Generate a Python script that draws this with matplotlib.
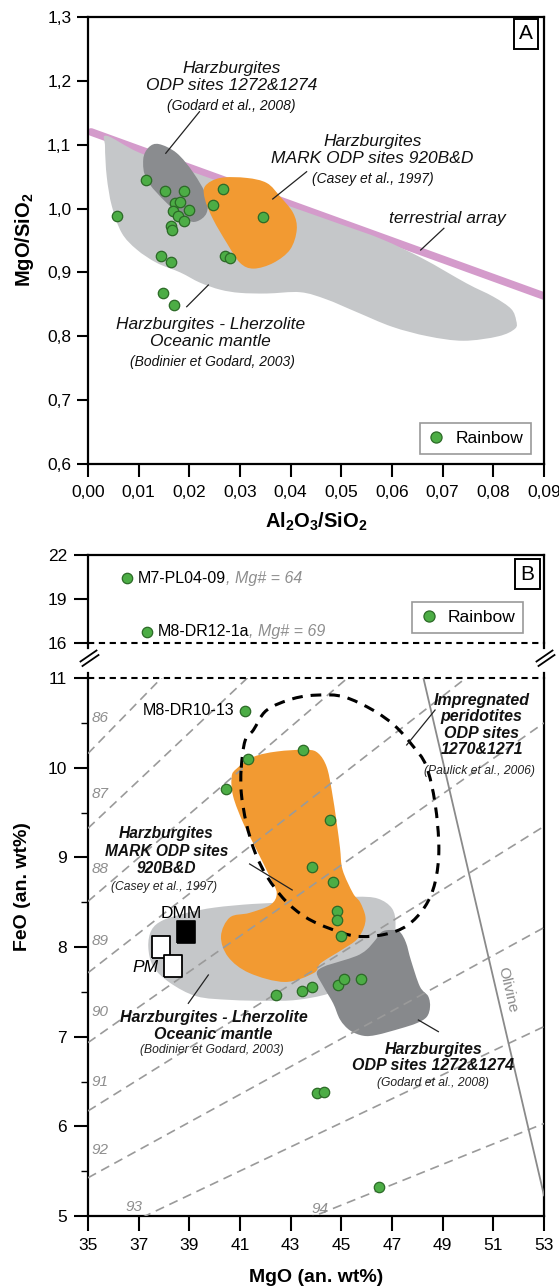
import numpy as np
import matplotlib
matplotlib.use('Agg')
import matplotlib.pyplot as plt
from matplotlib.path import Path
from matplotlib.patches import PathPatch
from matplotlib.lines import Line2D

plt.rcParams['font.family'] = ['Liberation Sans', 'DejaVu Sans']
plt.rcParams['mathtext.fontset'] = 'custom'
plt.rcParams['mathtext.rm'] = 'Liberation Sans'
plt.rcParams['mathtext.it'] = 'Liberation Sans:italic'
plt.rcParams['mathtext.bf'] = 'Liberation Sans:bold'

# ---------------- Panel A data ----------------
a_xticks = [0.00, 0.01, 0.02, 0.03, 0.04, 0.05, 0.06, 0.07, 0.08, 0.09]
a_xticklabels = ['0,00', '0,01', '0,02', '0,03', '0,04', '0,05', '0,06', '0,07', '0,08', '0,09']
a_yticks = [0.6, 0.7, 0.8, 0.9, 1.0, 1.1, 1.2, 1.3]
a_yticklabels = ['0,6', '0,7', '0,8', '0,9', '1,0', '1,1', '1,2', '1,3']

rainbow_al = [0.0058, 0.0115, 0.0151, 0.0189, 0.0171, 0.0182, 0.0168, 0.0199, 0.0178, 0.0189, 0.0163,
              0.0166, 0.0145, 0.0163, 0.0149, 0.0170, 0.0266, 0.0246, 0.0345, 0.0270, 0.0280]
rainbow_mgsi = [0.988, 1.045, 1.027, 1.027, 1.009, 1.010, 0.996, 0.997, 0.989, 0.981, 0.973,
                0.966, 0.925, 0.916, 0.868, 0.849, 1.031, 1.006, 0.987, 0.926, 0.923]

terr_al = [0.0006, 0.090]
terr_mgsi = [1.120, 0.863]

oceanic_a_al = [0.0037, 0.010, 0.020, 0.030, 0.040, 0.050, 0.058, 0.066, 0.0747, 0.080, 0.0835, 0.0845,
                0.0843, 0.081, 0.0741, 0.0671, 0.060, 0.053, 0.047, 0.0419, 0.0353, 0.030, 0.0261,
                0.0221, 0.0182, 0.01356, 0.0096, 0.00665, 0.0047, 0.0037, 0.00336]
oceanic_a_mgsi = [1.114, 1.088, 1.059, 1.031, 1.003, 0.975, 0.952, 0.922, 0.883, 0.862, 0.843, 0.825,
                  0.812, 0.800, 0.793, 0.800, 0.815, 0.838, 0.858, 0.869, 0.867, 0.868, 0.873,
                  0.884, 0.900, 0.915, 0.936, 0.962, 1.004, 1.050, 1.097]

odp1272_a_al = [0.0140, 0.0175, 0.0208, 0.0234, 0.0234, 0.0215, 0.0195, 0.0155, 0.0116, 0.0109, 0.0120]
odp1272_a_mgsi = [1.101, 1.087, 1.056, 1.019, 0.993, 0.980, 0.983, 1.009, 1.045, 1.077, 1.096]

mark_a_al = [0.0231, 0.0261, 0.0313, 0.0353, 0.0379, 0.0405, 0.0412, 0.0399, 0.0366, 0.0327, 0.0300,
             0.0274, 0.0247, 0.0231]
mark_a_mgsi = [1.035, 1.048, 1.048, 1.040, 1.019, 0.993, 0.967, 0.936, 0.915, 0.906, 0.915,
               0.946, 0.983, 1.014]

# ---------------- Panel B data ----------------
b_xticks = [35, 37, 39, 41, 43, 45, 47, 49, 51, 53]
b_xticklabels = ['35', '37', '39', '41', '43', '45', '47', '49', '51', '53']
b_low_yticks = [5, 6, 7, 8, 9, 10, 11]
b_low_yticklabels = ['5', '6', '7', '8', '9', '10', '11']
b_up_yticks = [16, 19, 22]
b_up_yticklabels = ['16', '19', '22']

rainbow_mgo = [36.52, 37.34, 41.19, 41.30, 43.47, 40.44, 44.55, 43.84, 44.68, 44.83, 44.83,
               44.97, 42.44, 43.45, 43.84, 44.85, 45.11, 45.78, 44.05, 44.30, 46.47]
rainbow_feo = [20.41, 16.77, 10.63, 10.10, 10.20, 9.76, 9.42, 8.89, 8.72, 8.40, 8.30,
               8.12, 7.46, 7.51, 7.55, 7.58, 7.64, 7.64, 6.37, 6.38, 5.32]

sample_names = ['M7-PL04-09', 'M8-DR12-1a', 'M8-DR10-13']
sample_mgnum = ['64', '69']

dmm_mgo = [38.85]
dmm_feo = [8.17]
pm_mgo = [37.87, 38.35]
pm_feo = [8.00, 7.79]

mg_numbers = [86, 87, 88, 89, 90, 91, 92, 93, 94]

olivine_mgo = [48.24, 53.0]
olivine_feo = [11.0, 5.23]

oceanic_b_mgo = [37.38, 37.51, 37.97, 38.89, 40.0, 41.5, 43.0, 44.5, 45.6, 46.44, 47.0, 47.14, 47.0,
                 46.5, 45.6, 44.5, 43.24, 42.05, 40.61, 39.29, 38.24, 37.58]
oceanic_b_feo = [8.00, 8.19, 8.30, 8.38, 8.44, 8.48, 8.50, 8.53, 8.56, 8.54, 8.43, 8.25, 8.0,
                 7.80, 7.62, 7.48, 7.41, 7.40, 7.41, 7.45, 7.60, 7.78]

odp1272_b_mgo = [44.03, 44.3, 44.95, 45.6, 46.0, 46.35, 46.6, 46.95, 47.3, 47.55, 47.75, 48.1, 48.43,
                 48.5, 48.37, 47.97, 47.32, 46.4, 45.87, 45.34, 44.95, 44.68, 44.29]
odp1272_b_feo = [7.71, 7.78, 7.84, 7.90, 7.97, 8.08, 8.17, 8.19, 8.17, 8.05, 7.85, 7.56, 7.45,
                 7.33, 7.22, 7.15, 7.09, 7.02, 7.01, 7.07, 7.19, 7.37, 7.56]

mark_b_mgo = [40.67, 40.87, 41.53, 42.45, 43.63, 44.09, 44.42, 44.62, 44.82, 44.95, 45.05, 45.46, 45.74,
              45.95, 45.88, 45.6, 45.03, 44.19, 43.91, 42.78, 41.37, 40.53, 40.25, 40.6, 41.37, 42.2,
              42.45, 42.18, 41.66, 41.13, 40.73]
mark_b_feo = [9.90, 9.99, 10.12, 10.18, 10.20, 10.16, 10.01, 9.75, 9.38, 9.10, 8.86, 8.60, 8.50,
              8.34, 8.21, 8.08, 7.97, 7.82, 7.71, 7.61, 7.71, 7.89, 8.12, 8.33, 8.38, 8.47,
              8.60, 8.78, 9.08, 9.38, 9.68]

impreg_mgo = [41.05, 41.2, 41.53, 42.05, 43.1, 44.1, 45.1, 46.26, 47.1, 47.8, 48.35, 48.7, 48.85, 48.7,
              48.3, 47.6, 46.7, 45.6, 44.6, 43.6, 42.78, 42.08, 41.6, 41.25, 41.05]
impreg_feo = [10.0, 10.3, 10.42, 10.64, 10.77, 10.81, 10.79, 10.64, 10.47, 10.25, 10.02, 9.6, 9.1, 8.72,
              8.45, 8.24, 8.14, 8.12, 8.20, 8.33, 8.52, 8.78, 9.05, 9.38, 9.72]

# ---------------- styles ----------------
GREEN = '#4cad45'
GEDGE = '#2c6a27'
ORANGE = '#f29a32'
LGRAY = '#c5c7c9'
DGRAY = '#8a8c8f'
PINK = '#d49bcb'
MGGRAY = '#8e8e8e'


def smooth_closed(xs, ys):
    P = np.column_stack([xs, ys]).astype(float)
    n = len(P)
    verts = [P[0]]
    codes = [Path.MOVETO]
    for i in range(n):
        p0, p1, p2, p3 = P[i - 1], P[i], P[(i + 1) % n], P[(i + 2) % n]
        verts += [p1 + (p2 - p0) / 6.0, p2 - (p3 - p1) / 6.0, p2]
        codes += [Path.CURVE4] * 3
    return Path(verts, codes)


W, H = 559, 1286
fig = plt.figure(figsize=(W / 100, H / 100), dpi=100)


def rect(l, t, r, b):
    return [l / W, 1 - b / H, (r - l) / W, (b - t) / H]


axA = fig.add_axes(rect(88, 17, 544, 464))
axBt = fig.add_axes(rect(88, 555, 544, 643))
axB = fig.add_axes(rect(88, 678, 544, 1216))

for ax in (axA, axBt, axB):
    for s in ax.spines.values():
        s.set_linewidth(1.6)

# ================= Panel A =================
axA.set_xlim(0, 0.09)
axA.set_ylim(0.6, 1.3)
axA.set_xticks(a_xticks)
axA.set_xticklabels(a_xticklabels)
axA.set_yticks(a_yticks)
axA.set_yticklabels(a_yticklabels)
axA.tick_params(axis='x', direction='out', length=9, width=1.5, labelsize=12.5, pad=6)
axA.tick_params(axis='y', direction='out', length=8, width=1.5, labelsize=12.5, pad=4)

axA.plot(terr_al, terr_mgsi, color=PINK, lw=5.5, solid_capstyle='round', zorder=1)
axA.add_patch(PathPatch(smooth_closed(oceanic_a_al, oceanic_a_mgsi), fc=LGRAY, ec='none', zorder=2))
axA.add_patch(PathPatch(smooth_closed(odp1272_a_al, odp1272_a_mgsi), fc=DGRAY, ec='none', zorder=3))
axA.add_patch(PathPatch(smooth_closed(mark_a_al, mark_a_mgsi), fc=ORANGE, ec='none', zorder=3))
axA.plot(rainbow_al, rainbow_mgsi, ls='none', marker='o', ms=7.5, mfc=GREEN, mec=GEDGE, mew=0.9, zorder=6)

ital = dict(style='italic', color='#111111')
axA.text(0.02836, 1.206, 'Harzburgites\nODP sites 1272&1274', ha='center', va='center',
         fontsize=12.5, linespacing=1.15, **ital)
axA.text(0.02836, 1.1606, '(Godard et al., 2008)', ha='center', va='center', fontsize=10, **ital)
axA.plot([0.0220, 0.01535], [1.1517, 1.0866], color='#222222', lw=0.9, zorder=7)

axA.text(0.05615, 1.0912, 'Harzburgites\nMARK ODP sites 920B&D', ha='center', va='center',
         fontsize=12.5, linespacing=1.15, **ital)
axA.text(0.05615, 1.0463, '(Casey et al., 1997)', ha='center', va='center', fontsize=10, **ital)
axA.plot([0.04315, 0.03646], [1.0577, 1.0150], color='#222222', lw=0.9, zorder=7)

axA.text(0.07094, 0.9848, 'terrestrial array', ha='center', va='center', fontsize=12.5, **ital)
axA.plot([0.07024, 0.06566], [0.9691, 0.9351], color='#222222', lw=0.9, zorder=7)

axA.text(0.02414, 0.8052, 'Harzburgites - Lherzolite\nOceanic mantle', ha='center', va='center',
         fontsize=12.5, linespacing=1.15, **ital)
axA.text(0.0245, 0.7602, '(Bodinier et Godard, 2003)', ha='center', va='center', fontsize=10, **ital)
axA.plot([0.02375, 0.01948], [0.8803, 0.8463], color='#222222', lw=0.9, zorder=7)

axA.text(0.96, 0.962, 'A', transform=axA.transAxes, ha='center', va='center', fontsize=15,
         bbox=dict(boxstyle='square,pad=0.25', fc='white', ec='black', lw=1.4), zorder=8)

legA = axA.legend(handles=[Line2D([], [], ls='none', marker='o', ms=8, mfc=GREEN, mec=GEDGE, mew=0.9,
                                  label='Rainbow')],
                  loc='lower right', bbox_to_anchor=(0.971, 0.022), borderaxespad=0, fancybox=False,
                  edgecolor='#999999', framealpha=1, fontsize=12.5, handlelength=1.0,
                  handletextpad=0.6, borderpad=0.45)
legA.get_frame().set_linewidth(1.2)

fig.text(25 / W, 1 - 240 / H, r'$\mathbf{MgO/SiO_2}$', rotation=90, ha='center', va='center', fontsize=14.5)
fig.text(316 / W, 1 - 522 / H, r'$\mathbf{Al_2O_3/SiO_2}$', ha='center', va='center', fontsize=14.5)

# ================= Panel B (upper part) =================
axBt.set_xlim(35, 53)
axBt.set_ylim(16, 22)
axBt.set_yticks(b_up_yticks)
axBt.set_yticklabels(b_up_yticklabels)
axBt.tick_params(axis='x', bottom=False, labelbottom=False)
axBt.tick_params(axis='y', direction='out', length=10, width=1.5, labelsize=12.5, pad=5)
axBt.spines['bottom'].set_visible(False)
axBt.axhline(16, color='black', lw=1.5, ls=(0, (3, 2.2)), clip_on=False, zorder=4)
axBt.plot(rainbow_mgo, rainbow_feo, ls='none', marker='o', ms=7.5, mfc=GREEN, mec=GEDGE, mew=0.9, zorder=6)

t1 = axBt.text(rainbow_mgo[0] + 0.43, rainbow_feo[0], sample_names[0], ha='left', va='center', fontsize=11.5)
axBt.annotate(', Mg# = ' + sample_mgnum[0], xy=(1, 0), xycoords=t1, ha='left', va='bottom',
              fontsize=11.5, style='italic', color=MGGRAY)
t2 = axBt.text(rainbow_mgo[1] + 0.42, rainbow_feo[1], sample_names[1], ha='left', va='center', fontsize=11.5)
axBt.annotate(', Mg# = ' + sample_mgnum[1], xy=(1, 0), xycoords=t2, ha='left', va='bottom',
              fontsize=11.5, style='italic', color=MGGRAY)

axBt.text(0.964, 0.784, 'B', transform=axBt.transAxes, ha='center', va='center', fontsize=15,
          bbox=dict(boxstyle='square,pad=0.25', fc='white', ec='black', lw=1.4), zorder=8)
legB = axBt.legend(handles=[Line2D([], [], ls='none', marker='o', ms=8, mfc=GREEN, mec=GEDGE, mew=0.9,
                                   label='Rainbow')],
                   loc='lower right', bbox_to_anchor=(0.955, 0.117), borderaxespad=0, fancybox=False,
                   edgecolor='#999999', framealpha=1, fontsize=12.5, handlelength=1.0,
                   handletextpad=0.6, borderpad=0.45)
legB.get_frame().set_linewidth(1.2)

# ================= Panel B (lower part) =================
axB.set_xlim(35, 53)
axB.set_ylim(5, 11)
axB.set_xticks(b_xticks)
axB.set_xticklabels(b_xticklabels)
axB.set_yticks(b_low_yticks)
axB.set_yticklabels(b_low_yticklabels)
axB.set_yticks([5.5, 6.5, 7.5, 8.5, 9.5, 10.5], minor=True)
axB.tick_params(axis='x', direction='out', length=11, width=1.5, labelsize=12.5, pad=5)
axB.tick_params(axis='y', which='major', direction='out', length=10, width=1.5, labelsize=12.5, pad=5)
axB.tick_params(axis='y', which='minor', direction='out', length=5, width=1.0)
axB.spines['top'].set_visible(False)
axB.axhline(11, color='black', lw=1.5, ls=(0, (3, 2.2)), clip_on=False, zorder=4)

axB.add_patch(PathPatch(smooth_closed(oceanic_b_mgo, oceanic_b_feo), fc=LGRAY, ec='none', zorder=1))
axB.add_patch(PathPatch(smooth_closed(odp1272_b_mgo, odp1272_b_feo), fc='#87898c', ec='none', zorder=2))
axB.add_patch(PathPatch(smooth_closed(mark_b_mgo, mark_b_feo), fc=ORANGE, ec='none', zorder=2))

# Mg# iso-lines
mg_x = np.array([35.0, 53.0])
for m in mg_numbers:
    fe = mg_x * (71.85 / 40.3) * (100 - m) / m
    axB.plot(mg_x, fe, color='#9a9a9a', lw=1.2, ls=(0, (5.5, 3.5)), zorder=3)
for m in mg_numbers[:7]:
    fe_lab = 35.6 * (71.85 / 40.3) * (100 - m) / m + 0.22
    axB.text(35.15, fe_lab, str(m), ha='left', va='center', fontsize=11, style='italic', color=MGGRAY, zorder=3)
axB.text(36.8, 5.10, str(mg_numbers[7]), ha='center', va='center', fontsize=11, style='italic', color=MGGRAY)
axB.text(44.15, 5.08, str(mg_numbers[8]), ha='center', va='center', fontsize=11, style='italic', color=MGGRAY)

# impregnated peridotites outline
axB.add_patch(PathPatch(smooth_closed(impreg_mgo, impreg_feo), fc='none', ec='black', lw=2.2,
                        ls=(0, (3.5, 2.6)), zorder=4))

# olivine line
axB.plot(olivine_mgo, olivine_feo, color='#8a8a8a', lw=1.3, zorder=4)
axB.text(51.55, 7.52, 'Olivine', rotation=-76.9, ha='center', va='center', fontsize=11, color='#8a8a8a',
         rotation_mode='anchor')

# DMM / PM
sq = [(-0.4, -0.5), (0.4, -0.5), (0.4, 0.5), (-0.4, 0.5), (-0.4, -0.5)]
axB.plot(dmm_mgo, dmm_feo, ls='none', marker=sq, ms=15.5, mfc='black', mec='black', mew=1.2, zorder=5)
axB.plot(pm_mgo, pm_feo, ls='none', marker=sq, ms=15.5, mfc='white', mec='black', mew=1.3, zorder=5)
axB.text(38.70, 8.376, 'DMM', ha='center', va='center', fontsize=12.5, zorder=6)
axB.text(37.80, 7.77, 'PM', ha='right', va='center', fontsize=12.5, style='italic', zorder=6)

axB.plot(rainbow_mgo, rainbow_feo, ls='none', marker='o', ms=7.5, mfc=GREEN, mec=GEDGE, mew=0.9, zorder=7)
axB.text(40.79, 10.64, sample_names[2], ha='right', va='center', fontsize=11.5, zorder=7)

bi = dict(style='italic', weight='bold', color='#111111')
axB.text(50.54, 10.475, 'Impregnated\nperidotites\nODP sites\n1270&1271', ha='center', va='center',
         fontsize=11.5, linespacing=1.12, zorder=8, **bi)
axB.text(50.47, 9.96, '(Paulick et al., 2006)', ha='center', va='center', fontsize=8.7, style='italic',
         color='#222222', zorder=8)
axB.plot([48.70, 47.58], [10.643, 10.253], color='#222222', lw=0.9, zorder=8)

for line_txt, fe_pos in zip(['Harzburgites', 'MARK ODP sites', '920B&D'], [9.27, 9.07, 8.87]):
    axB.text(38.1, fe_pos, line_txt, ha='center', va='center', fontsize=11.2, zorder=8, **bi)
axB.text(38.0, 8.667, '(Casey et al., 1997)', ha='center', va='center', fontsize=8.7, style='italic',
         color='#222222', zorder=8)
axB.plot([41.38, 43.06], [8.926, 8.636], color='#222222', lw=0.9, zorder=8)

axB.text(39.95, 7.12, 'Harzburgites - Lherzolite\nOceanic mantle', ha='center', va='center',
         fontsize=11.5, linespacing=1.1, zorder=8, **bi)
axB.text(39.89, 6.851, '(Bodinier et Godard, 2003)', ha='center', va='center', fontsize=8.7,
         style='italic', color='#222222', zorder=8)
axB.plot([39.75, 38.96], [7.688, 7.372], color='#222222', lw=0.9, zorder=8)

axB.text(48.63, 6.77, 'Harzburgites\nODP sites 1272&1274', ha='center', va='center', fontsize=11.5,
         linespacing=1.1, zorder=8, **bi)
axB.text(48.63, 6.48, '(Godard et al., 2008)', ha='center', va='center', fontsize=8.7, style='italic',
         color='#222222', zorder=8)
axB.plot([48.04, 48.83], [7.186, 7.056], color='#222222', lw=0.9, zorder=8)

fig.text(23 / W, 1 - 887 / H, 'FeO (an. wt%)', rotation=90, ha='center', va='center', fontsize=14,
         weight='bold')
fig.text(316 / W, 1 - 1277 / H, 'MgO (an. wt%)', ha='center', va='center', fontsize=14, weight='bold')


# axis-break marks and short spine stubs (figure pixel coordinates)
def fline(x0, y0, x1, y1, **kw):
    fig.add_artist(Line2D([x0 / W, x1 / W], [1 - y0 / H, 1 - y1 / H], transform=fig.transFigure, **kw))


for xs in (88, 544):
    fline(xs, 643, xs, 648, color='black', lw=1.6)
    fline(xs, 673, xs, 678, color='black', lw=1.6)
for dx in (0, 456):
    fline(80.5 + dx, 661.5, 96.5 + dx, 650.5, color='black', lw=1.3)
    fline(82.5 + dx, 666.0, 98.5 + dx, 655.0, color='black', lw=1.3)

fig.savefig('out.png', dpi=100)
